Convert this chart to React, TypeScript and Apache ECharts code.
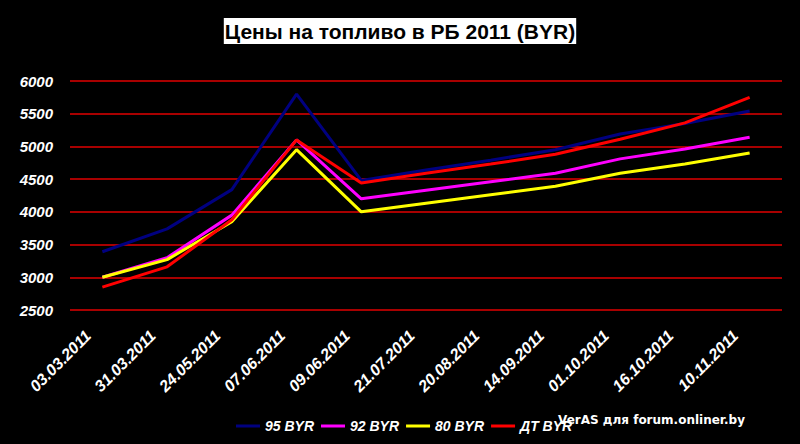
import React, { useEffect, useRef } from "react";
import * as echarts from "echarts";

const categories = [
  "03.03.2011", "31.03.2011", "24.05.2011", "07.06.2011", "09.06.2011", "21.07.2011",
  "20.08.2011", "14.09.2011", "01.10.2011", "16.10.2011", "10.11.2011",
];
const byr95 = [3390, 3740, 4340, 5800, 4480, 4640, 4790, 4950, 5190, 5350, 5540];
const byr92 = [3000, 3300, 3950, 5100, 4200, 4330, 4460, 4590, 4810, 4960, 5140];
const byr80 = [3000, 3270, 3850, 4950, 4000, 4130, 4260, 4390, 4590, 4730, 4900];
const dtByr = [2850, 3160, 3880, 5100, 4440, 4590, 4730, 4880, 5110, 5360, 5750];
const yTicks = { min: 2500, max: 6000, interval: 500 };
const titleText = "Цены на топливо в РБ 2011 (BYR)";
const watermark = "VerAS для forum.onliner.by";

export default function App() {
  const ref = useRef<HTMLDivElement>(null);
  useEffect(() => {
    if (!ref.current) return;
    const chart = echarts.init(ref.current, undefined, { renderer: "svg" });
    const mk = (name: string, data: number[], color: string) => ({
      name,
      type: "line",
      data,
      symbol: "none",
      lineStyle: { color, width: 3 },
      itemStyle: { color },
    });
    const font = "Liberation Sans, Arial, sans-serif";
    chart.setOption({
      animation: false,
      backgroundColor: "#000000",
      title: {
        text: titleText,
        left: "center",
        top: 18,
        backgroundColor: "#ffffff",
        padding: [3, 1, 2, 1],
        textStyle: {
          color: "#000000",
          fontFamily: font,
          fontWeight: "bold",
          fontSize: 21,
        },
      },
      grid: { left: 70, right: 18, top: 81, bottom: 134, containLabel: false },
      xAxis: {
        type: "category",
        data: categories,
        boundaryGap: true,
        axisLine: { show: false },
        axisTick: { show: false },
        axisLabel: {
          rotate: 45,
          interval: 0,
          margin: 9,
          padding: [0, 20, 0, 0],
          color: "#ffffff",
          fontStyle: "italic",
          fontWeight: "bold",
          fontSize: 16,
          fontFamily: font,
        },
      },
      yAxis: {
        type: "value",
        min: yTicks.min,
        max: yTicks.max,
        interval: yTicks.interval,
        axisLine: { show: false },
        axisTick: { show: false },
        axisLabel: {
          margin: 17,
          color: "#ffffff",
          fontStyle: "italic",
          fontWeight: "bold",
          fontSize: 15,
          fontFamily: font,
          formatter: (v: number) => String(v),
        },
        splitLine: {
          show: true,
          lineStyle: { color: "#a80000", width: 2 },
        },
      },
      legend: {
        left: 231,
        top: 414,
        icon: "rect",
        itemWidth: 24,
        itemHeight: 3,
        itemGap: 7,
        textStyle: {
          color: "#ffffff",
          fontStyle: "italic",
          fontWeight: "bold",
          fontSize: 14,
          fontFamily: font,
        },
        data: ["95 BYR", "92 BYR", "80 BYR", "ДТ BYR"],
      },
      graphic: [
        {
          type: "text",
          left: 558,
          top: 414,
          style: {
            text: watermark,
            fill: "#ffffff",
            font: "bold 12px DejaVu Sans, sans-serif",
          },
        },
      ],
      series: [
        mk("95 BYR", byr95, "#000080"),
        mk("92 BYR", byr92, "#ff00ff"),
        mk("80 BYR", byr80, "#ffff00"),
        mk("ДТ BYR", dtByr, "#ff0000"),
      ],
    });
    return () => chart.dispose();
  }, []);
  return <div ref={ref} style={{ width: 800, height: 444, position: "fixed", left: 0, top: 0 }} />;
}
